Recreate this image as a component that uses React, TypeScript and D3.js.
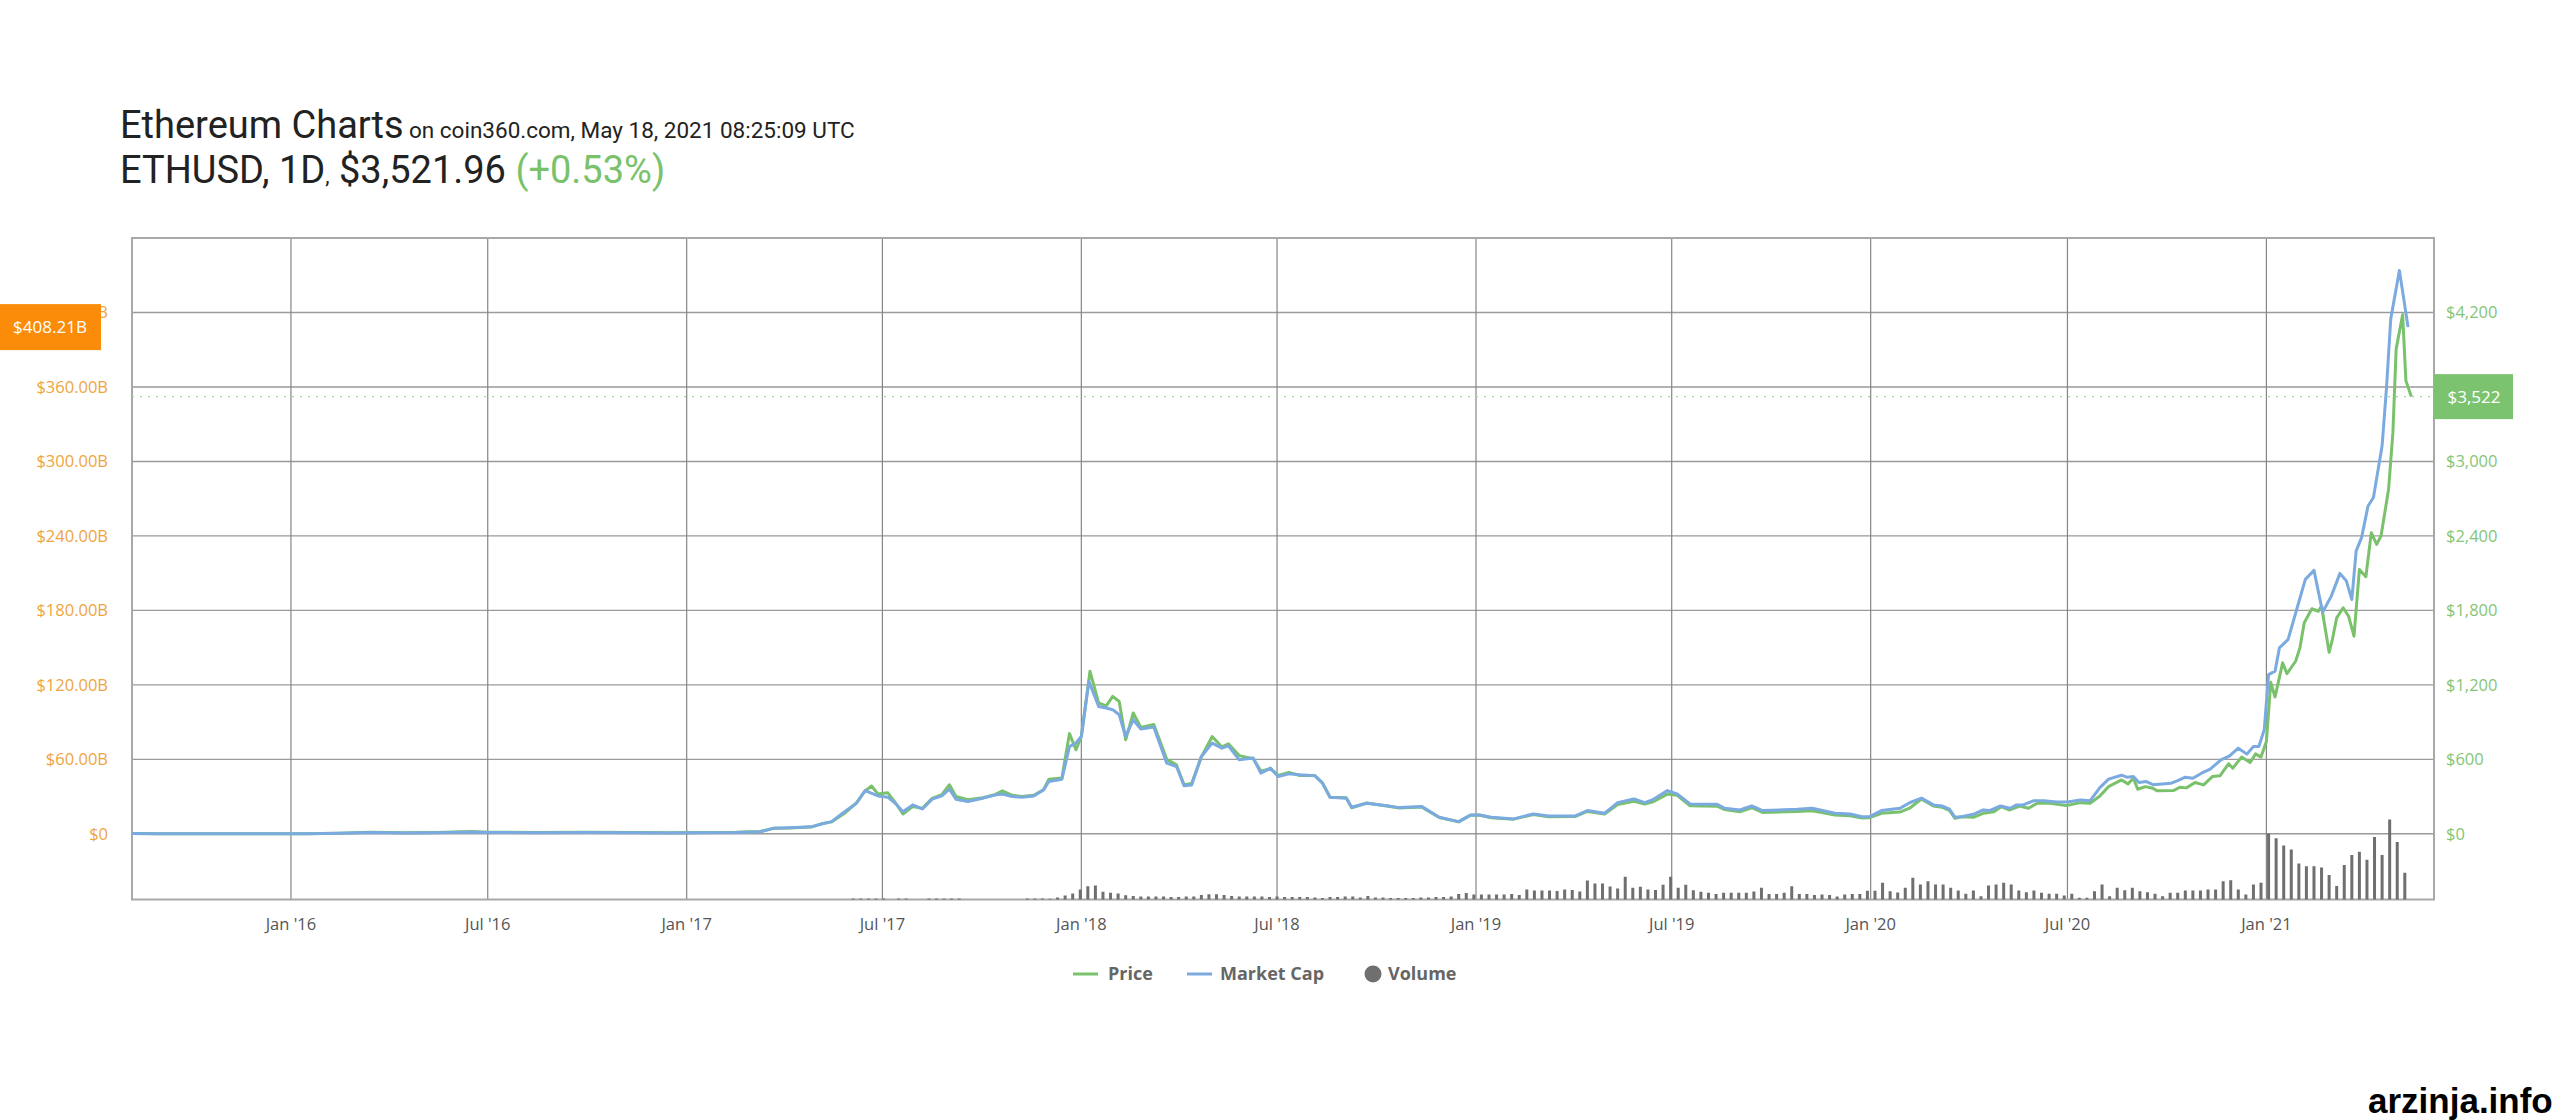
import React from 'react';
import * as d3 from 'd3';

// market cap in billions USD
const mcapSeries: [string, number][] = [
  ['2015-08-07', 0.2], ['2015-09-01', 0.1], ['2015-10-15', 0.05], ['2015-12-01', 0.07],
  ['2016-01-15', 0.08], ['2016-02-15', 0.35], ['2016-03-14', 1.0], ['2016-04-15', 0.7],
  ['2016-05-15', 0.9], ['2016-06-15', 1.5], ['2016-07-01', 1.0], ['2016-08-15', 0.9],
  ['2016-10-01', 1.1], ['2016-11-15', 0.8], ['2016-12-15', 0.65], ['2017-01-15', 0.85],
  ['2017-02-15', 1.0], ['2017-03-10', 1.6], ['2017-03-22', 4.4], ['2017-04-06', 4.8],
  ['2017-04-26', 5.6], ['2017-05-06', 7.9], ['2017-05-15', 9.8], ['2017-05-27', 17.8],
  ['2017-06-07', 24.6], ['2017-06-15', 34.8], ['2017-06-27', 30.5], ['2017-07-06', 29.5],
  ['2017-07-13', 24.6], ['2017-07-20', 17.8], ['2017-07-29', 23.3], ['2017-08-07', 20.0],
  ['2017-08-16', 27.9], ['2017-08-25', 30.5], ['2017-09-01', 35.9], ['2017-09-07', 27.9],
  ['2017-09-18', 26.0], ['2017-10-02', 28.7], ['2017-10-13', 31.3], ['2017-10-20', 32.1],
  ['2017-10-29', 30.0], ['2017-11-07', 29.5], ['2017-11-18', 30.5], ['2017-11-27', 35.4],
  ['2017-12-02', 42.1], ['2017-12-14', 44.0], ['2017-12-21', 70.3], ['2017-12-27', 73.1],
  ['2018-01-01', 78.4], ['2018-01-08', 122.8], ['2018-01-17', 102.6], ['2018-01-24', 101.3],
  ['2018-01-30', 100.0], ['2018-02-05', 95.9], ['2018-02-11', 78.4], ['2018-02-18', 91.9],
  ['2018-02-25', 84.4], ['2018-03-09', 86.0], ['2018-03-21', 56.9], ['2018-03-30', 54.2],
  ['2018-04-06', 38.8], ['2018-04-13', 39.4], ['2018-04-22', 62.3], ['2018-05-02', 73.1],
  ['2018-05-11', 69.0], ['2018-05-17', 70.9], ['2018-05-27', 59.6], ['2018-06-09', 61.0],
  ['2018-06-16', 48.9], ['2018-06-25', 52.9], ['2018-07-02', 46.1], ['2018-07-12', 48.3],
  ['2018-07-22', 47.5], ['2018-08-05', 46.7], ['2018-08-12', 40.8], ['2018-08-19', 29.5],
  ['2018-09-03', 28.7], ['2018-09-08', 21.4], ['2018-09-22', 24.6], ['2018-10-12', 22.4],
  ['2018-10-22', 21.1], ['2018-11-12', 21.9], ['2018-11-28', 13.3], ['2018-12-16', 9.8],
  ['2018-12-27', 15.2], ['2019-01-04', 15.2], ['2019-01-15', 13.3], ['2019-02-05', 12.0],
  ['2019-02-23', 16.0], ['2019-03-09', 14.4], ['2019-04-03', 14.4], ['2019-04-14', 18.7],
  ['2019-04-30', 16.6], ['2019-05-12', 25.1], ['2019-05-27', 28.1], ['2019-06-06', 25.1],
  ['2019-06-13', 27.3], ['2019-06-27', 34.8], ['2019-07-06', 32.1], ['2019-07-18', 24.1],
  ['2019-08-12', 23.8], ['2019-08-19', 20.6], ['2019-09-02', 19.2], ['2019-09-13', 22.4],
  ['2019-09-23', 18.7], ['2019-10-25', 19.8], ['2019-11-08', 20.6], ['2019-11-29', 16.6],
  ['2019-12-13', 16.0], ['2019-12-24', 13.8], ['2019-12-31', 13.8], ['2020-01-11', 18.7],
  ['2020-01-28', 20.5], ['2020-02-06', 25.0], ['2020-02-17', 28.7], ['2020-02-28', 23.3],
  ['2020-03-07', 22.4], ['2020-03-14', 19.8], ['2020-03-19', 13.3], ['2020-03-25', 13.8],
  ['2020-04-05', 15.7], ['2020-04-14', 19.2], ['2020-04-20', 18.7], ['2020-04-30', 22.4],
  ['2020-05-09', 20.6], ['2020-05-15', 23.3], ['2020-05-21', 23.3], ['2020-05-31', 26.7],
  ['2020-06-09', 26.7], ['2020-06-21', 25.7], ['2020-07-01', 25.7], ['2020-07-13', 27.3],
  ['2020-07-22', 26.7], ['2020-07-31', 37.2], ['2020-08-08', 44.0], ['2020-08-20', 47.2],
  ['2020-08-25', 45.6], ['2020-08-31', 46.1], ['2020-09-05', 41.3], ['2020-09-12', 42.1],
  ['2020-09-18', 39.6], ['2020-10-05', 40.8], ['2020-10-11', 42.9], ['2020-10-18', 45.6],
  ['2020-10-25', 44.8], ['2020-11-02', 48.8], ['2020-11-10', 52.1], ['2020-11-20', 59.6],
  ['2020-11-28', 62.8], ['2020-12-06', 69.0], ['2020-12-14', 64.2], ['2020-12-20', 70.3],
  ['2020-12-25', 70.3], ['2020-12-30', 83.8], ['2021-01-03', 128.2], ['2021-01-09', 131.0],
  ['2021-01-13', 149.8], ['2021-01-21', 156.5], ['2021-01-29', 180.7], ['2021-02-06', 205.0],
  ['2021-02-14', 212.2], ['2021-02-22', 178.5], ['2021-03-02', 191.5], ['2021-03-10', 209.8],
  ['2021-03-16', 203.6], ['2021-03-21', 188.8], ['2021-03-25', 227.8], ['2021-03-30', 238.6],
  ['2021-04-05', 264.1], ['2021-04-10', 270.9], ['2021-04-18', 312.6], ['2021-04-22', 358.4],
  ['2021-04-26', 414.9], ['2021-05-04', 453.9], ['2021-05-12', 408.21],
];

// price in USD
const priceSeries: [string, number][] = [
  ['2015-08-07', 2.8], ['2015-09-01', 1.3], ['2015-10-15', 0.6], ['2015-12-01', 0.9],
  ['2016-01-15', 1.2], ['2016-02-15', 5], ['2016-03-14', 12.5], ['2016-04-15', 8.5],
  ['2016-05-15', 11], ['2016-06-15', 18.5], ['2016-07-01', 12.5], ['2016-08-15', 11],
  ['2016-10-01', 13], ['2016-11-15', 10], ['2016-12-15', 8], ['2017-01-15', 10],
  ['2017-02-15', 12], ['2017-03-10', 18], ['2017-03-22', 44], ['2017-04-06', 46],
  ['2017-04-26', 54], ['2017-05-06', 82], ['2017-05-15', 96], ['2017-05-27', 165],
  ['2017-06-07', 250], ['2017-06-15', 345], ['2017-06-21', 385], ['2017-06-27', 320],
  ['2017-07-06', 330], ['2017-07-13', 250], ['2017-07-20', 160], ['2017-07-29', 220],
  ['2017-08-07', 205], ['2017-08-16', 285], ['2017-08-25', 315], ['2017-09-01', 395],
  ['2017-09-07', 300], ['2017-09-18', 275], ['2017-10-02', 290], ['2017-10-13', 315],
  ['2017-10-20', 346], ['2017-10-29', 310], ['2017-11-07', 300], ['2017-11-18', 310],
  ['2017-11-27', 355], ['2017-12-02', 440], ['2017-12-14', 450], ['2017-12-21', 807],
  ['2017-12-27', 677], ['2018-01-01', 785], ['2018-01-09', 1309], ['2018-01-17', 1054],
  ['2018-01-24', 1030], ['2018-01-30', 1107], ['2018-02-05', 1066], ['2018-02-11', 757],
  ['2018-02-18', 973], ['2018-02-25', 856], ['2018-03-09', 880], ['2018-03-21', 600],
  ['2018-03-30', 555], ['2018-04-06', 395], ['2018-04-13', 405], ['2018-04-22', 620],
  ['2018-05-02', 784], ['2018-05-11', 700], ['2018-05-17', 725], ['2018-05-27', 630],
  ['2018-06-09', 605], ['2018-06-16', 505], ['2018-06-25', 525], ['2018-07-02', 470],
  ['2018-07-12', 495], ['2018-07-22', 470], ['2018-08-05', 470], ['2018-08-12', 410],
  ['2018-08-19', 295], ['2018-09-03', 290], ['2018-09-08', 210], ['2018-09-22', 248],
  ['2018-10-12', 222], ['2018-10-22', 208], ['2018-11-12', 215], ['2018-11-28', 132],
  ['2018-12-16', 96], ['2018-12-27', 150], ['2019-01-04', 152], ['2019-01-15', 130],
  ['2019-02-05', 118], ['2019-02-23', 155], ['2019-03-09', 138], ['2019-04-03', 140],
  ['2019-04-14', 180], ['2019-04-30', 160], ['2019-05-12', 235], ['2019-05-27', 262],
  ['2019-06-06', 240], ['2019-06-13', 255], ['2019-06-27', 320], ['2019-07-06', 310],
  ['2019-07-18', 225], ['2019-08-12', 222], ['2019-08-19', 195], ['2019-09-02', 178],
  ['2019-09-13', 210], ['2019-09-23', 172], ['2019-10-25', 180], ['2019-11-08', 185],
  ['2019-11-29', 152], ['2019-12-13', 145], ['2019-12-24', 128], ['2019-12-31', 130],
  ['2020-01-11', 165], ['2020-01-28', 175], ['2020-02-06', 206], ['2020-02-17', 279],
  ['2020-02-28', 224], ['2020-03-07', 214], ['2020-03-14', 187], ['2020-03-19', 125],
  ['2020-03-25', 138], ['2020-04-05', 133], ['2020-04-14', 165], ['2020-04-24', 178],
  ['2020-05-01', 219], ['2020-05-08', 192], ['2020-05-18', 224], ['2020-05-26', 206],
  ['2020-06-03', 246], ['2020-06-15', 246], ['2020-06-30', 227], ['2020-07-13', 251],
  ['2020-07-22', 246], ['2020-07-31', 305], ['2020-08-08', 380], ['2020-08-20', 434],
  ['2020-08-26', 402], ['2020-08-31', 448], ['2020-09-04', 359], ['2020-09-11', 380],
  ['2020-09-18', 367], ['2020-09-22', 346], ['2020-10-07', 348], ['2020-10-13', 375],
  ['2020-10-19', 370], ['2020-10-27', 413], ['2020-11-04', 394], ['2020-11-12', 461],
  ['2020-11-19', 467], ['2020-11-27', 564], ['2020-12-01', 529], ['2020-12-09', 618],
  ['2020-12-17', 574], ['2020-12-22', 644], ['2020-12-27', 618], ['2021-01-01', 744],
  ['2021-01-05', 1220], ['2021-01-09', 1102], ['2021-01-16', 1377], ['2021-01-20', 1290],
  ['2021-01-28', 1390], ['2021-02-01', 1498], ['2021-02-05', 1700], ['2021-02-12', 1813],
  ['2021-02-18', 1793], ['2021-02-21', 1834], ['2021-02-28', 1462], ['2021-03-03', 1565],
  ['2021-03-07', 1740], ['2021-03-13', 1821], ['2021-03-18', 1753], ['2021-03-23', 1592],
  ['2021-03-28', 2130], ['2021-04-03', 2071], ['2021-04-08', 2426], ['2021-04-13', 2332],
  ['2021-04-17', 2399], ['2021-04-24', 2776], ['2021-04-28', 3234], ['2021-05-01', 3907],
  ['2021-05-07', 4181], ['2021-05-10', 3651], ['2021-05-15', 3521.96],
];

// weekly volume, billions USD, one bar per week from volumeStart
const volumeStart = '2017-06-04';
const volumeWeekly: number[] = [
  4, 4, 4, 4, 4, 0, 4, 4, 0, 0, 4, 4, 4, 4, 4, 0, 0, 0, 0, 0,
  0, 0, 0, 4, 4, 4, 3, 8, 16, 24, 40, 53, 56, 31, 27, 24, 17, 14, 12, 12,
  12, 12, 10, 10, 12, 12, 18, 21, 21, 18, 14, 12, 12, 12, 12, 10, 12, 10, 10, 10,
  10, 8, 6, 10, 10, 12, 12, 8, 14, 8, 8, 6, 6, 6, 6, 8, 8, 10, 10, 12,
  22, 26, 20, 20, 20, 20, 20, 22, 18, 40, 36, 36, 36, 34, 40, 38, 32, 76, 64, 64,
  52, 44, 91, 47, 51, 40, 38, 59, 91, 47, 59, 37, 31, 27, 22, 27, 27, 27, 27, 32,
  47, 22, 22, 27, 53, 22, 22, 18, 20, 18, 12, 20, 22, 22, 35, 35, 67, 33, 28, 47,
  87, 60, 73, 60, 60, 47, 36, 23, 36, 13, 56, 60, 67, 60, 36, 29, 36, 27, 23, 23,
  16, 23, 7, 7, 33, 60, 13, 47, 37, 47, 33, 29, 23, 13, 27, 27, 36, 36, 36, 40,
  40, 73, 77, 40, 20, 60, 67, 264, 245, 216, 200, 144, 133, 133, 128, 98, 54, 138, 178, 191,
  159, 250, 178, 320, 230, 107,
];

const mcapTicks = [0, 60, 120, 180, 240, 300, 360, 420];
const priceTicks = [0, 600, 1200, 1800, 2400, 3000, 3600, 4200];

const lastPrice = 3521.96;

const GREEN = '#79c26b';
const BLUE = '#7aaadf';
const ORANGE_TXT = '#eea53f';
const GREEN_TXT = '#84c676';

const parse = d3.utcParse('%Y-%m-%d');

const App: React.FC = () => {
  const width = 2560;
  const height = 1120;
  const plot = { left: 132, right: 2434, top: 238, bottom: 899.5 };

  const x = d3.scaleUtc()
    .domain([new Date(Date.UTC(2015, 7, 7)), new Date(Date.UTC(2021, 5, 5))])
    .range([plot.left, plot.right]);
  const yMcap = d3.scaleLinear().domain([0, 480]).range([833.8, plot.top]);
  const yPrice = d3.scaleLinear().domain([0, 4800]).range([833.8, plot.top]);
  const yVol = d3.scaleLinear().domain([0, 400]).range([plot.bottom, plot.bottom - 100]);

  const mcapLine = d3.line<[string, number]>()
    .x(d => x(parse(d[0])!))
    .y(d => yMcap(d[1]));
  const priceLine = d3.line<[string, number]>()
    .x(d => x(parse(d[0])!))
    .y(d => yPrice(d[1]));

  const volStart = parse(volumeStart)!;
  const volBars = volumeWeekly.map((v, i) => ({ date: d3.utcDay.offset(volStart, i * 7), v }));

  const xTicks = x.ticks(d3.utcMonth.every(6)!).filter(d => d > x.domain()[0]);
  const fmtX = d3.utcFormat("%b '%y");
  const fmtMcap = (v: number) => (v === 0 ? '$0' : `$${v.toFixed(2)}B`);
  const fmtPrice = (v: number) => (v === 0 ? '$0' : `$${d3.format(',')(v)}`);

  const lastMcap = mcapSeries[mcapSeries.length - 1][1];
  const axisFont = '"Open Sans", "DejaVu Sans", sans-serif';

  return (
    <svg width={width} height={height}
      style={{ position: 'absolute', left: 0, top: 0, background: '#fff' }}>
      {/* header */}
      <g fontFamily="Roboto, sans-serif" fill="#222">
        <text x={120} y={138} fontSize={38}>Ethereum Charts</text>
        <text x={409} y={138} fontSize={22.5}>on coin360.com, May 18, 2021 08:25:09 UTC</text>
        <text x={120} y={183} fontSize={38}>
          ETHUSD, 1D<tspan fontSize={22}>,</tspan> $3,521.96{' '}
          <tspan fill={GREEN}>(+0.53%)</tspan>
        </text>
      </g>

      {/* grid */}
      <g>
        {mcapTicks.map(t => (
          <line key={`h${t}`} x1={plot.left} x2={plot.right} y1={yMcap(t)} y2={yMcap(t)}
            stroke="#9a9a9a" strokeWidth={1.4} />
        ))}
        {xTicks.map(t => (
          <line key={`v${t.getTime()}`} x1={x(t)} x2={x(t)} y1={plot.top} y2={plot.bottom}
            stroke="#858585" strokeWidth={1.2} />
        ))}
        <rect x={plot.left} y={plot.top} width={plot.right - plot.left} height={plot.bottom - plot.top}
          fill="none" stroke="#a8a8a8" strokeWidth={2} />
      </g>

      {/* volume */}
      <g fill="#6f6f6f">
        {volBars.filter(b => b.v > 0).map((b, i) => (
          <rect key={i} x={x(b.date) - 1.5} width={3} y={yVol(b.v)} height={plot.bottom - yVol(b.v)} />
        ))}
      </g>

      {/* current price line */}
      <line x1={plot.left} x2={plot.right} y1={yPrice(lastPrice)} y2={yPrice(lastPrice)}
        stroke="#a6d69c" strokeWidth={1.3} strokeDasharray="2,6" />

      {/* series */}
      <path d={priceLine(priceSeries) ?? ''} fill="none" stroke={GREEN} strokeWidth={3}
        strokeLinejoin="round" />
      <path d={mcapLine(mcapSeries) ?? ''} fill="none" stroke={BLUE} strokeWidth={3}
        strokeLinejoin="round" />

      {/* left axis */}
      <g fontFamily={axisFont} fontSize={16.5} fill={ORANGE_TXT} textAnchor="end">
        {mcapTicks.map(t => (
          <text key={t} x={108} y={yMcap(t)} dy="0.35em">{fmtMcap(t)}</text>
        ))}
      </g>
      <rect x={0} y={yMcap(lastMcap) - 23} width={101} height={46} fill="#fb8c0a" />
      <text x={50} y={yMcap(lastMcap)} dy="0.35em" textAnchor="middle" fill="#fff"
        fontFamily={axisFont} fontSize={17}>{`$${lastMcap.toFixed(2)}B`}</text>

      {/* right axis */}
      <g fontFamily={axisFont} fontSize={16.5} fill={GREEN_TXT}>
        {priceTicks.map(t => (
          <text key={t} x={2446} y={yPrice(t)} dy="0.35em">{fmtPrice(t)}</text>
        ))}
      </g>
      <rect x={plot.right} y={yPrice(lastPrice) - 22.5} width={79} height={45} fill="#7cc370" />
      <text x={plot.right + 40} y={yPrice(lastPrice)} dy="0.35em" textAnchor="middle" fill="#fff"
        fontFamily={axisFont} fontSize={17}>{`$${d3.format(',')(Math.round(lastPrice))}`}</text>

      {/* x axis */}
      <g fontFamily={axisFont} fontSize={16.5} fill="#555" textAnchor="middle">
        {xTicks.map(t => (
          <text key={t.getTime()} x={x(t)} y={924} dy="0.35em">{fmtX(t)}</text>
        ))}
      </g>

      {/* legend */}
      <g fontFamily={axisFont} fontSize={18} fontWeight="bold" fill="#666">
        <line x1={1073} x2={1098} y1={974} y2={974} stroke={GREEN} strokeWidth={3} />
        <text x={1108} y={974} dy="0.35em">Price</text>
        <line x1={1187} x2={1212} y1={974} y2={974} stroke={BLUE} strokeWidth={3} />
        <text x={1220} y={974} dy="0.35em">Market Cap</text>
        <circle cx={1373} cy={974} r={8.5} fill="#6f6f6f" />
        <text x={1388} y={974} dy="0.35em">Volume</text>
      </g>

      {/* watermark */}
      <text x={2368} y={1113} fontFamily='"Liberation Sans", Arial, sans-serif' fontWeight="bold"
        fontSize={35} fill="#000">arzinja.info</text>
    </svg>
  );
};

export default App;
